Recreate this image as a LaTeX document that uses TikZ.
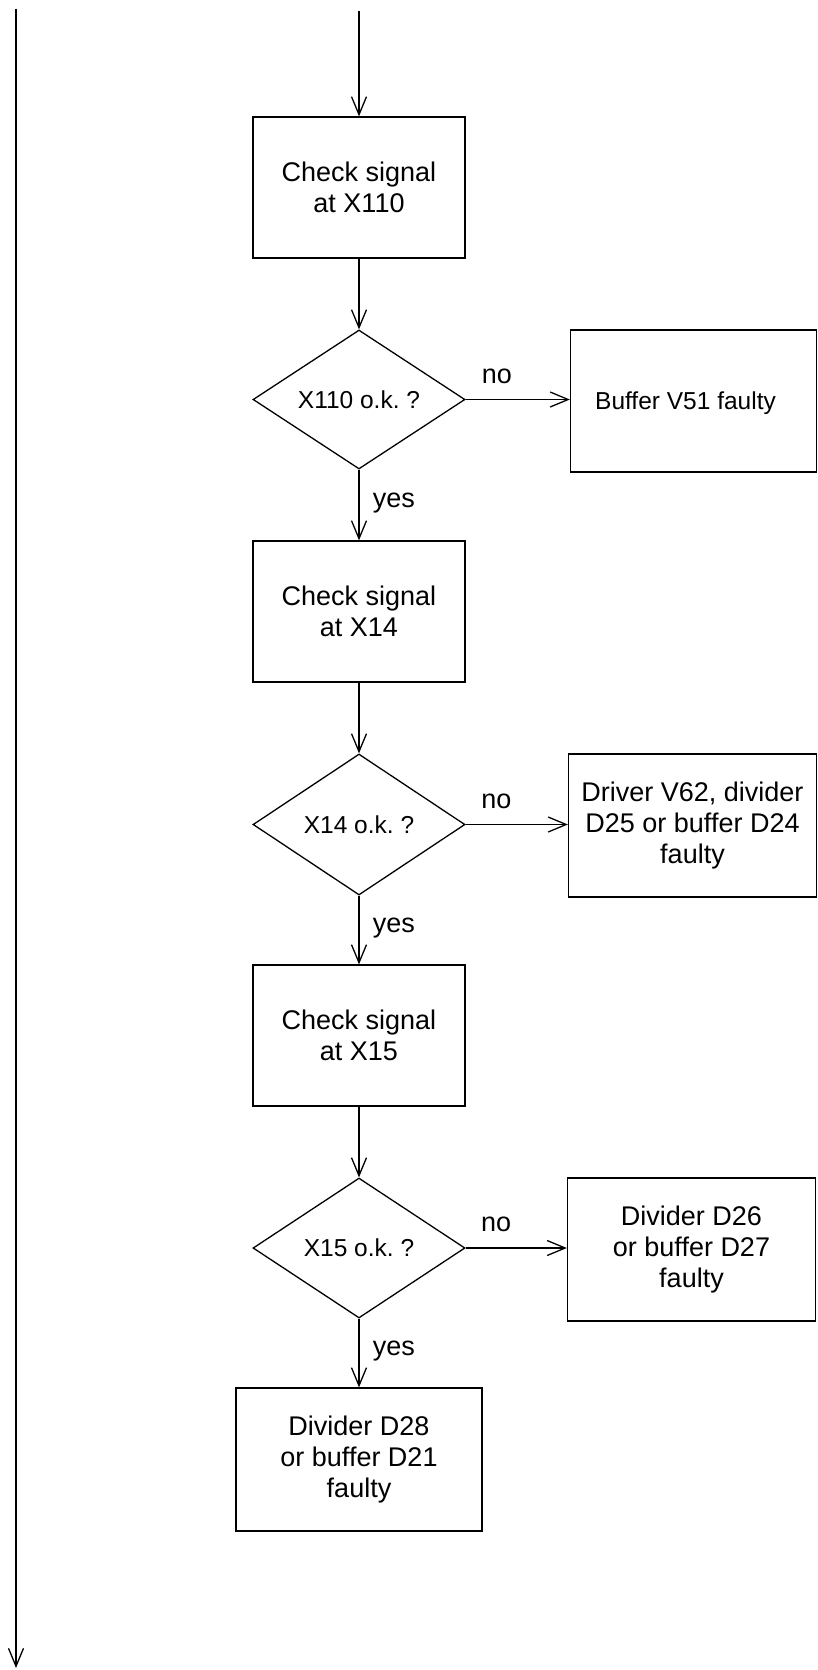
\documentclass[tikz,border=0pt]{standalone}
\usepackage{fontspec}
\setmainfont{Liberation Sans}
\usetikzlibrary{shapes.geometric,arrows.meta}
\frenchspacing
\begin{document}
\begin{tikzpicture}[x=1pt,y=-1pt,
  line width=1.3pt,
  font=\fontsize{27}{31}\selectfont,
  box/.style={draw, rectangle, align=center, inner sep=0pt},
  dec/.style={draw, diamond, minimum width=212pt, minimum height=139pt, inner sep=0pt, aspect=1.53, font=\fontsize{24.5}{28}\selectfont},
  arr/.style={-{Straight Barb[length=18pt,width=15pt,line width=1.3pt]}},
  nolbl/.style={pos=0.3, anchor=south, yshift=12pt},
  yeslbl/.style={pos=0.47, anchor=west, xshift=10pt}
]
\useasboundingbox (0,0) rectangle (818,1670);

% main column
\node[box, minimum width=212pt, minimum height=141pt] (c1) at (359,187.5) {Check signal\\at X110};
\node[dec] (d1) at (359,399.5) {X110 o.k. ?};
\node[box, minimum width=212pt, minimum height=141pt] (c2) at (359,611.5) {Check signal\\at X14};
\node[dec, minimum height=141pt] (d2) at (359,824.5) {X14 o.k. ?};
\node[box, minimum width=212pt, minimum height=141pt] (c3) at (359,1035.5) {Check signal\\at X15};
\node[dec, minimum height=140pt] (d3) at (359,1248) {X15 o.k. ?};
\node[box, minimum width=246pt, minimum height=143pt] (c4) at (359,1459.5) {Divider D28\\or buffer D21\\faulty};

% fault boxes
\node[box, minimum width=246pt, minimum height=142pt] (r1) at (693.5,401) {};
\node[font=\fontsize{24.5}{28}\selectfont] (r1t) at (685.5,403) {Buffer V51 faulty};
\node[box, minimum width=248pt, minimum height=143pt] (r2) at (692.5,825.5) {Driver V62, divider\\D25 or buffer D24\\faulty};
\node[box, minimum width=248pt, minimum height=143pt] (r3) at (691.5,1249.5) {Divider D26\\or buffer D27\\faulty};

% free ends
\coordinate (top) at (359,11);
\coordinate (ltop) at (16,9);
\coordinate (lbot) at (16,1668);

% connectors
\draw[arr] (top) -- (c1.north);
\draw[arr] (c1.south) -- (d1.north);
\draw[arr] (d1.south) -- node[yeslbl] {yes} (c2.north);
\draw[arr] (d1.east) -- node[nolbl] {no} (d1.east -| r1.west);
\draw[arr] (c2.south) -- (d2.north);
\draw[arr] (d2.south) -- node[yeslbl] {yes} (c3.north);
\draw[arr] (d2.east) -- node[nolbl] {no} (d2.east -| r2.west);
\draw[arr] (c3.south) -- (d3.north);
\draw[arr] (d3.south) -- node[yeslbl] {yes} (c4.north);
\draw[arr] (d3.east) -- node[nolbl] {no} (d3.east -| r3.west);
\draw[arr] (ltop) -- (lbot);
\end{tikzpicture}
\end{document}
